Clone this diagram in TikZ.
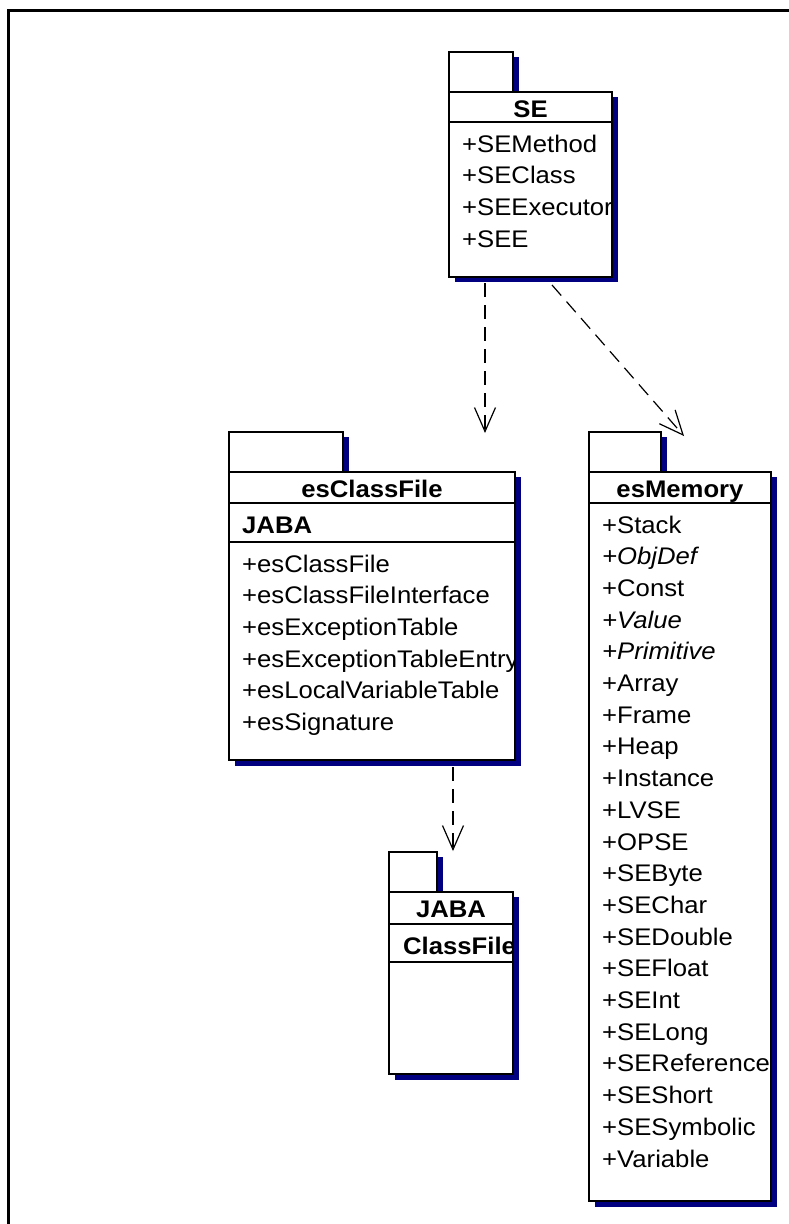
\documentclass[tikz,border=0pt]{standalone}
\usepackage{fontspec}
\setmainfont{Liberation Sans}[FakeStretch=1.07]
\usetikzlibrary{arrows.meta}
\definecolor{navy}{RGB}{0,0,128}
\tikzset{
  shad/.style={fill=navy, draw=none},
  pkbox/.style={draw=black, fill=white, line width=1.3pt, inner sep=0pt, outer sep=0pt, anchor=north west},
  sepline/.style={draw=black, line width=1.3pt},
  item/.style={anchor=base west, inner sep=0pt, font=\fontsize{24}{28}\selectfont},
  ititem/.style={item, font=\fontsize{24}{28}\selectfont\itshape},
  bitem/.style={item, font=\fontsize{24}{28}\selectfont\bfseries},
  ttl/.style={anchor=base, inner sep=0pt, font=\fontsize{24}{28}\selectfont\bfseries},
  dep/.style={line width=1.2pt, dash pattern=on 14pt off 8pt,
    -{Straight Barb[length=24pt,width=21pt,line width=1.2pt]}},
}
\begin{document}
\begin{tikzpicture}[x=1pt,y=-1pt]
\useasboundingbox (0,0) rectangle (788,1224);
% outer frame (top and left only)
\draw[line width=3pt] (8.7,1226) -- (8.7,10.5) -- (790,10.5);

% ---------- SE ----------
\fill[shad] (455,57) rectangle (519,97);
\fill[shad] (455,97) rectangle (618,282);
\node[pkbox, minimum width=64pt, minimum height=40pt] (setab) at (449,52) {};
\node[pkbox, minimum width=163pt, minimum height=185pt] (se) at (449,92) {};
\draw[sepline] (449,122) -- (612,122);
\begin{scope}
\clip (449,92) rectangle (612,277);
\node[ttl] (seT) at (530.5,117) {SE};
\node[item] (se1) at (462,152) {+SEMethod};
\node[item] (se2) at (462,183.7) {+SEClass};
\node[item] (se3) at (462,215.4) {+SEExecutor};
\node[item] (se4) at (462,247.1) {+SEE};
\end{scope}

% ---------- esClassFile ----------
\fill[shad] (235,437) rectangle (349,477);
\fill[shad] (235,477) rectangle (521,766);
\node[pkbox, minimum width=114pt, minimum height=40pt] (cftab) at (229,432) {};
\node[pkbox, minimum width=286pt, minimum height=288pt] (cf) at (229,472) {};
\draw[sepline] (229,503) -- (515,503);
\draw[sepline] (229,542) -- (515,542);
\begin{scope}
\clip (229,472) rectangle (515,760);
\node[ttl] (cfT) at (372,497) {esClassFile};
\node[bitem] (cfJ) at (242,533) {JABA};
\node[item] (cf1) at (242,572) {+esClassFile};
\node[item] (cf2) at (242,603.7) {+esClassFileInterface};
\node[item] (cf3) at (242,635.4) {+esExceptionTable};
\node[item] (cf4) at (242,667.1) {+esExceptionTableEntry};
\node[item] (cf5) at (242,698.8) {+esLocalVariableTable};
\node[item] (cf6) at (242,730.5) {+esSignature};
\end{scope}

% ---------- esMemory ----------
\fill[shad] (595,437) rectangle (667,477);
\fill[shad] (595,477) rectangle (777,1207);
\node[pkbox, minimum width=72pt, minimum height=40pt] (memtab) at (589,432) {};
\node[pkbox, minimum width=182pt, minimum height=729pt] (mem) at (589,472) {};
\draw[sepline] (589,503) -- (771,503);
\begin{scope}
\clip (589,472) rectangle (771,1201);
\node[ttl] (memT) at (680,497) {esMemory};
\foreach \t/\s [count=\i from 0] in {+Stack/item,+ObjDef/ititem,+Const/item,+Value/ititem,+Primitive/ititem,+Array/item,+Frame/item,+Heap/item,+Instance/item,+LVSE/item,+OPSE/item,+SEByte/item,+SEChar/item,+SEDouble/item,+SEFloat/item,+SEInt/item,+SELong/item,+SEReference/item,+SEShort/item,+SESymbolic/item,+Variable/item}
  \node[\s] (mem\i) at (602,533+31.7*\i) {\t};
\end{scope}

% ---------- JABA ClassFile ----------
\fill[shad] (395,857) rectangle (443,897);
\fill[shad] (395,897) rectangle (519,1080);
\node[pkbox, minimum width=48pt, minimum height=40pt] (jtab) at (389,852) {};
\node[pkbox, minimum width=124pt, minimum height=182pt] (jaba) at (389,892) {};
\draw[sepline] (389,924) -- (513,924);
\draw[sepline] (389,962) -- (513,962);
\begin{scope}
\clip (389,892) rectangle (513,1074);
\node[ttl] (jT) at (451,917) {JABA};
\node[bitem] (jC) at (403,954) {ClassFile};
\end{scope}

% ---------- dependencies ----------
\coordinate (d1s) at (485,283);
\coordinate (d1e) at (485,433);
\coordinate (d2s) at (552,285);
\coordinate (d2e) at (684,436);
\coordinate (d3s) at (453,767);
\coordinate (d3e) at (453,851);
\draw[dep] (d1s) -- (d1e);
\draw[dep] (d2s) -- (d2e);
\draw[dep] (d3s) -- (d3e);
\end{tikzpicture}
\end{document}
